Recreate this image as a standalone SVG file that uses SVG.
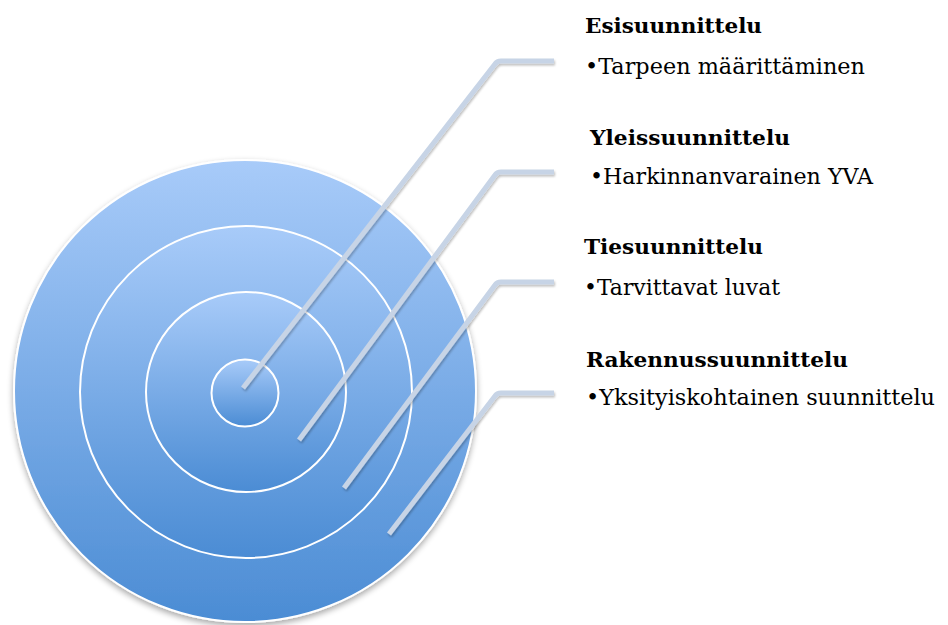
<svg xmlns="http://www.w3.org/2000/svg" width="948" height="625" viewBox="0 0 948 625">
<style>
.ring{fill:url(#g);stroke:#ffffff;stroke-width:2}
.con{fill:none;stroke:#c7d4e6;stroke-width:5;stroke-linejoin:round;stroke-linecap:butt}
.h{font-family:"DejaVu Serif","Liberation Serif",serif;font-weight:bold;font-size:21px;fill:#000}
.t{font-family:"DejaVu Serif","Liberation Serif",serif;font-size:22px;fill:#000}
</style>
<defs>
<linearGradient id="g" x1="0" y1="0" x2="0" y2="1">
<stop offset="0" stop-color="#a8cbf9"/>
<stop offset="1" stop-color="#4b8cd4"/>
</linearGradient>
<filter id="sh" x="-10%" y="-10%" width="120%" height="125%">
<feGaussianBlur in="SourceAlpha" stdDeviation="3"/>
<feOffset dy="3"/>
<feComponentTransfer><feFuncA type="linear" slope="0.35"/></feComponentTransfer>
<feMerge><feMergeNode/><feMergeNode in="SourceGraphic"/></feMerge>
</filter>
<filter id="lsh" x="-10%" y="-10%" width="130%" height="130%">
<feGaussianBlur in="SourceAlpha" stdDeviation="1.2"/>
<feOffset dx="1" dy="1.5"/>
<feComponentTransfer><feFuncA type="linear" slope="0.25"/></feComponentTransfer>
<feMerge><feMergeNode/><feMergeNode in="SourceGraphic"/></feMerge>
</filter>
</defs>
<g id="target">
<circle id="ring1" class="ring" cx="245" cy="391" r="231" stroke-width="1" filter="url(#sh)"/>
<circle id="ring2" class="ring" cx="246" cy="392" r="166"/>
<circle id="ring3" class="ring" cx="246" cy="392" r="100"/>
<circle id="ring4" class="ring" cx="245" cy="393" r="33.5"/>
</g>
<g id="connectors" filter="url(#lsh)">
<path class="con" d="M243,388 L495,64 Q497,61 501,61 L554,61"/>
<path class="con" d="M299,440 L495,175 Q497,172 501,172 L554,172"/>
<path class="con" d="M344,488 L495,285 Q497,282 501,282 L554,282"/>
<path class="con" d="M389,534 L495,396 Q497,393 501,393 L554,393"/>
</g>
<g id="esisuunnittelu">
<text class="h" x="585" y="33" textLength="177" lengthAdjust="spacingAndGlyphs">Esisuunnittelu</text>
<text class="t" x="585" y="74" textLength="280" lengthAdjust="spacingAndGlyphs">•Tarpeen määrittäminen</text>
</g>
<g id="yleissuunnittelu">
<text class="h" x="590" y="145" textLength="200" lengthAdjust="spacingAndGlyphs">Yleissuunnittelu</text>
<text class="t" x="590" y="184" textLength="283" lengthAdjust="spacingAndGlyphs">•Harkinnanvarainen YVA</text>
</g>
<g id="tiesuunnittelu">
<text class="h" x="584" y="254" textLength="179" lengthAdjust="spacingAndGlyphs">Tiesuunnittelu</text>
<text class="t" x="584" y="295" textLength="196" lengthAdjust="spacingAndGlyphs">•Tarvittavat luvat</text>
</g>
<g id="rakennussuunnittelu">
<text class="h" x="586" y="367" textLength="262" lengthAdjust="spacingAndGlyphs">Rakennussuunnittelu</text>
<text class="t" x="586" y="405" textLength="349" lengthAdjust="spacingAndGlyphs">•Yksityiskohtainen suunnittelu</text>
</g>
</svg>
